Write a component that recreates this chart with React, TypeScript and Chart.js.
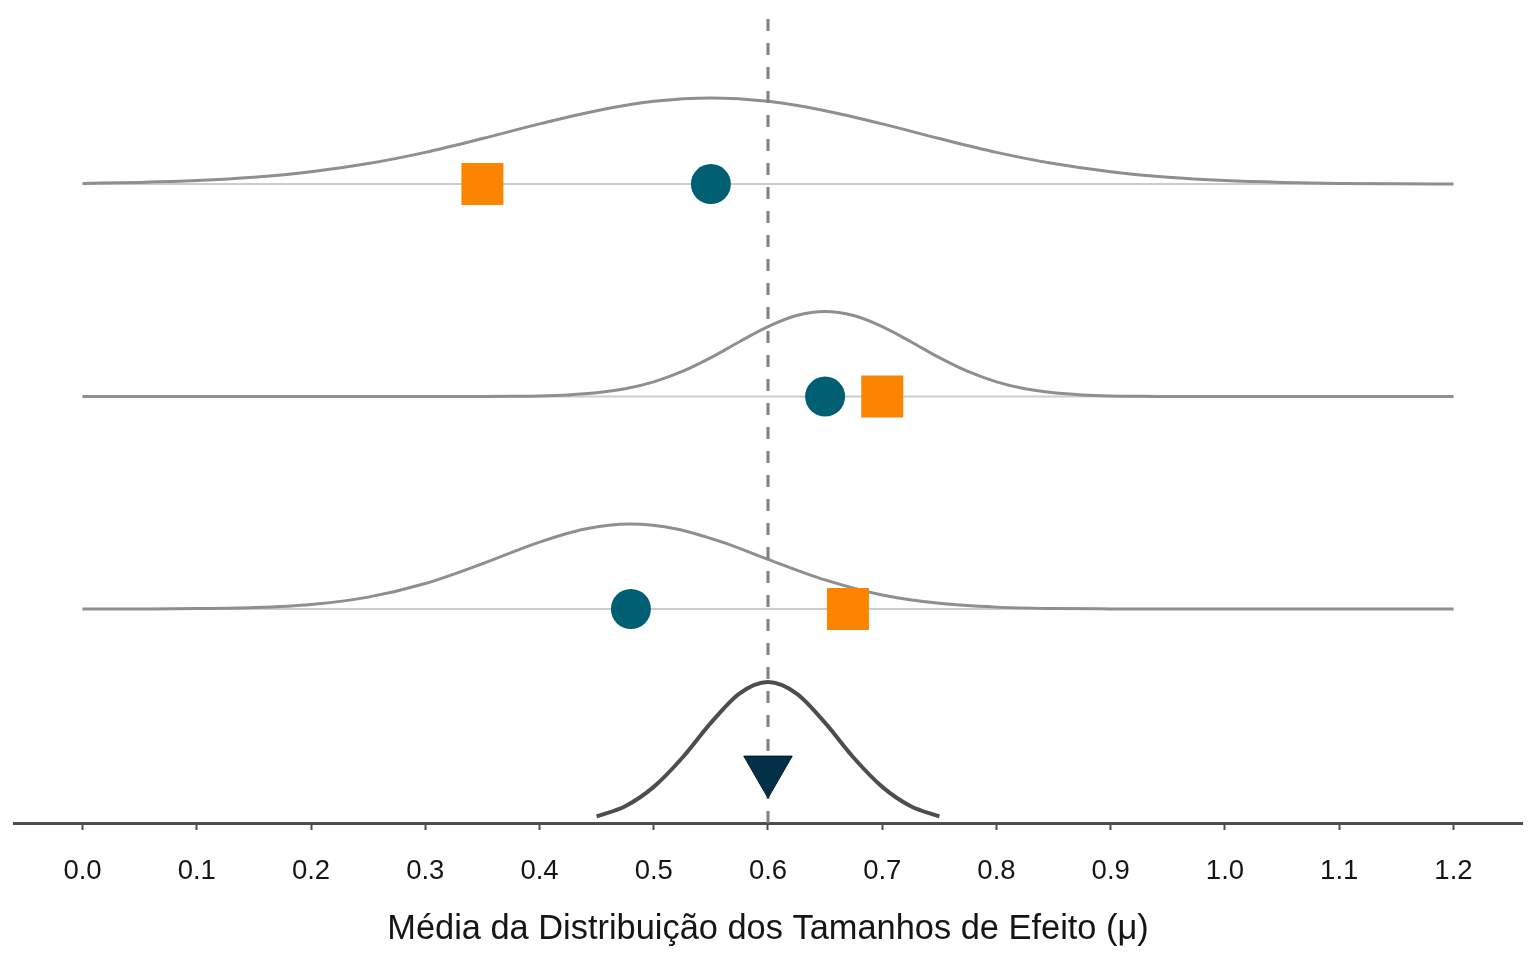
import React, { useEffect, useRef } from "react";
import { Chart, registerables } from "chart.js";

Chart.register(...registerables);

// ---------- data ----------
const tickValues = [0, 0.1, 0.2, 0.3, 0.4, 0.5, 0.6, 0.7, 0.8, 0.9, 1.0, 1.1, 1.2];
const axisTitle = "Média da Distribuição dos Tamanhos de Efeito (μ)";

const rowLevels = [3, 2, 1];
const circleMeans = [0.55, 0.65, 0.48];
const squareMeans = [0.35, 0.7, 0.67];
const pooledMean = 0.6;
const pooledMarkerLevel = 0.242;

const topCurveX = [0, 0.05, 0.1, 0.15, 0.2, 0.25, 0.3, 0.35, 0.4, 0.45, 0.5, 0.55, 0.6, 0.65, 0.7, 0.75, 0.8, 0.85, 0.9, 0.95, 1.0, 1.05, 1.1, 1.15, 1.2];
const topCurveH = [0.003, 0.0075, 0.016, 0.0315, 0.0573, 0.0962, 0.149, 0.214, 0.283, 0.345, 0.389, 0.405, 0.389, 0.345, 0.283, 0.214, 0.149, 0.0962, 0.0573, 0.0315, 0.016, 0.0075, 0.003, 0.0011, 0.0004];

const midCurveX = [0, 0.2, 0.3, 0.35, 0.375, 0.4, 0.425, 0.45, 0.475, 0.5, 0.525, 0.55, 0.575, 0.6, 0.625, 0.65, 0.675, 0.7, 0.725, 0.75, 0.775, 0.8, 0.825, 0.85, 0.875, 0.9, 0.925, 0.95, 1.0, 1.2];
const midCurveH = [0, 0, 0, 0.0004, 0.0011, 0.003, 0.0077, 0.0176, 0.0366, 0.069, 0.118, 0.183, 0.258, 0.329, 0.381, 0.4, 0.381, 0.329, 0.258, 0.183, 0.118, 0.069, 0.0366, 0.0176, 0.0077, 0.003, 0.0011, 0.0004, 0, 0];

const lowCurveX = [0, 0.05, 0.1, 0.15, 0.2, 0.25, 0.3, 0.35, 0.4, 0.44, 0.48, 0.52, 0.56, 0.6, 0.65, 0.7, 0.75, 0.8, 0.85, 0.9, 0.95, 1.0, 1.1, 1.2];
const lowCurveH = [0.0001, 0.0004, 0.0019, 0.007, 0.0217, 0.056, 0.12, 0.213, 0.315, 0.377, 0.4, 0.377, 0.315, 0.234, 0.137, 0.066, 0.0266, 0.0089, 0.0025, 0.0006, 0.0001, 0, 0, 0];

const pooledCurveX = [0.45, 0.475, 0.5, 0.525, 0.55, 0.575, 0.6, 0.625, 0.65, 0.675, 0.7, 0.725, 0.75];
const pooledCurveH = [0.024, 0.072, 0.163, 0.3, 0.464, 0.602, 0.656, 0.602, 0.464, 0.3, 0.163, 0.072, 0.024];

const yMin = -0.007;
const yMax = 3.866;
const vlineTop = 3.833;

// ---------- styles ----------
const FONT = "'Liberation Sans', Arial, Helvetica, sans-serif";
const CURVE_GREY = "#8f8f8f";
const BASE_GREY = "#cccccc";
const POOLED_GREY = "#4d4d4d";
const CIRCLE_COL = "#005f73";
const SQUARE_COL = "#fb8500";
const TRI_COL = "#023047";

const toPts = (xs: number[], hs: number[], base: number) =>
  xs.map((x, i) => ({ x, y: base + hs[i] }));

export default function App() {
  const ref = useRef<HTMLCanvasElement | null>(null);

  useEffect(() => {
    if (!ref.current) return;
    const xFirst = tickValues[0];
    const xLast = tickValues[tickValues.length - 1];

    const lineBase = {
      showLine: true,
      pointRadius: 0,
      pointHoverRadius: 0,
      fill: false,
      cubicInterpolationMode: "monotone" as const,
    };

    const datasets: any[] = [];

    // baselines
    rowLevels.forEach((r) => {
      datasets.push({
        ...lineBase,
        data: [
          { x: xFirst, y: r },
          { x: xLast, y: r },
        ],
        borderColor: BASE_GREY,
        borderWidth: 2,
        order: 60,
      });
    });

    // study curves
    const curves: [number[], number[]][] = [
      [topCurveX, topCurveH],
      [midCurveX, midCurveH],
      [lowCurveX, lowCurveH],
    ];
    curves.forEach(([xs, hs], i) => {
      datasets.push({
        ...lineBase,
        data: toPts(xs, hs, rowLevels[i]),
        borderColor: CURVE_GREY,
        borderWidth: 3,
        order: 50,
      });
    });

    // dashed vertical line
    datasets.push({
      ...lineBase,
      cubicInterpolationMode: "default",
      tension: 0,
      data: [
        { x: pooledMean, y: yMin },
        { x: pooledMean, y: vlineTop },
      ],
      borderColor: "#7f7f7f",
      borderWidth: 3,
      borderDash: [12, 12],
      order: 40,
    });

    // pooled curve
    datasets.push({
      ...lineBase,
      data: toPts(pooledCurveX, pooledCurveH, 0),
      borderColor: POOLED_GREY,
      borderWidth: 4,
      order: 30,
    });

    // circles
    datasets.push({
      data: circleMeans.map((x, i) => ({ x, y: rowLevels[i] })),
      pointStyle: "circle",
      pointRadius: 20,
      pointHoverRadius: 20,
      backgroundColor: CIRCLE_COL,
      borderColor: CIRCLE_COL,
      borderWidth: 0,
      order: 10,
    });

    // squares
    datasets.push({
      data: squareMeans.map((x, i) => ({ x, y: rowLevels[i] })),
      pointStyle: "rect",
      pointRadius: 29.7,
      pointHoverRadius: 29.7,
      backgroundColor: SQUARE_COL,
      borderColor: SQUARE_COL,
      borderWidth: 0,
      order: 10,
    });

    // triangle
    datasets.push({
      data: [{ x: pooledMean, y: pooledMarkerLevel }],
      pointStyle: "triangle",
      rotation: 180,
      pointRotation: 180,
      pointRadius: 28,
      pointHoverRadius: 28,
      backgroundColor: TRI_COL,
      borderColor: "#011c2b",
      borderWidth: 1,
      order: 5,
    });

    const chart = new Chart(ref.current, {
      type: "scatter",
      data: { datasets },
      options: {
        animation: false,
        responsive: false,
        maintainAspectRatio: false,
        devicePixelRatio: 1,
        layout: { autoPadding: false, padding: { left: 14, right: 14, top: 0, bottom: 0 } },
        plugins: {
          legend: { display: false },
          tooltip: { enabled: false },
        },
        events: [],
        scales: {
          x: {
            type: "linear",
            min: -0.06,
            max: 1.26,
            afterBuildTicks: (s: any) => {
              s.ticks = tickValues.map((v) => ({ value: v }));
            },
            afterFit: (s: any) => {
              s.height = 137;
              s.paddingLeft = 0;
              s.paddingRight = 0;
              s.paddingTop = 0;
              s.paddingBottom = 0;
            },
            grid: {
              drawOnChartArea: false,
              drawTicks: true,
              tickLength: 7,
              tickWidth: 2,
              tickColor: POOLED_GREY,
            },
            border: { display: true, color: POOLED_GREY, width: 3 },
            ticks: {
              autoSkip: false,
              maxRotation: 0,
              padding: 25,
              color: "#151515",
              font: { family: FONT, size: 27.5 },
              callback: (v: any) => Number(v).toFixed(1),
            },
            title: {
              display: true,
              text: axisTitle,
              color: "#151515",
              font: { family: FONT, size: 34.4 },
              padding: { top: 0, bottom: 10 },
            },
          },
          y: {
            type: "linear",
            display: false,
            min: yMin,
            max: yMax,
          },
        },
      } as any,
    });

    return () => chart.destroy();
  }, []);

  return (
    <div
      style={{
        position: "fixed",
        left: 0,
        top: 0,
        width: 1536,
        height: 960,
        background: "#ffffff",
      }}
    >
      <canvas ref={ref} width={1536} height={960} style={{ width: 1536, height: 960 }} />
    </div>
  );
}
